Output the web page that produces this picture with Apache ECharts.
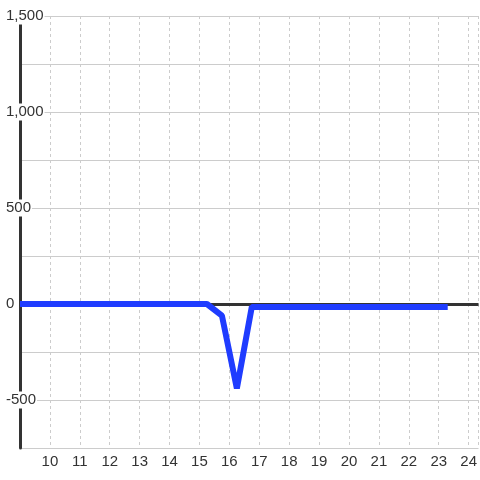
<!DOCTYPE html>
<html lang="en" style="height: 100%">
<head>
<meta charset="utf-8">
<title>Line</title>
</head>
<body style="height: 100%; margin: 0">
<div id="container" style="height: 100%"></div>
<script type="text/javascript" src="https://cdn.jsdelivr.net/npm/echarts/dist/echarts.min.js"></script>
<script type="text/javascript">
var hours = [9, 15.25, 15.75, 16.25, 16.75, 23.3];
var values = [0, 0, -60, -440, -15, -15];

var dom = document.getElementById('container');
var myChart = echarts.init(dom);

var font = 'Liberation Sans';

var option = {
    animation: false,
    grid: { left: 20, right: 0, top: 16, bottom: 32 },
    xAxis: {
        type: 'value',
        min: 9,
        max: 24.33,
        interval: 1,
        axisLine: { show: false },
        axisTick: { show: false },
        axisLabel: {
            showMinLabel: false,
            showMaxLabel: false,
            color: '#333',
            fontSize: 15,
            fontFamily: font,
            margin: 6
        },
        splitLine: { lineStyle: { color: '#ccc', type: [3, 3] } }
    },
    yAxis: {
        type: 'value',
        min: -750,
        max: 1500,
        interval: 250,
        axisLine: { show: true, lineStyle: { color: '#333', width: 3 } },
        axisTick: { show: false },
        axisLabel: {
            color: '#333',
            fontSize: 15,
            fontFamily: font,
            align: 'left',
            margin: 15,
            backgroundColor: '#fff',
            padding: [1, 1],
            formatter: function (v) {
                return v % 500 === 0 ? v.toLocaleString('en-US') : '';
            }
        },
        splitLine: { lineStyle: { color: '#ccc' } }
    },
    series: [{
        type: 'line',
        data: hours.map(function (h, i) { return [h, values[i]]; }),
        showSymbol: false,
        z: 3,
        lineStyle: { color: '#1f3cff', width: 6 },
        markLine: {
            silent: true,
            z: 1,
            symbol: 'none',
            label: { show: false },
            lineStyle: { color: '#333', width: 3, type: 'solid' },
            data: [{ yAxis: 0 }]
        }
    }]
};

myChart.setOption(option);
window.addEventListener('resize', myChart.resize);
</script>
</body>
</html>
